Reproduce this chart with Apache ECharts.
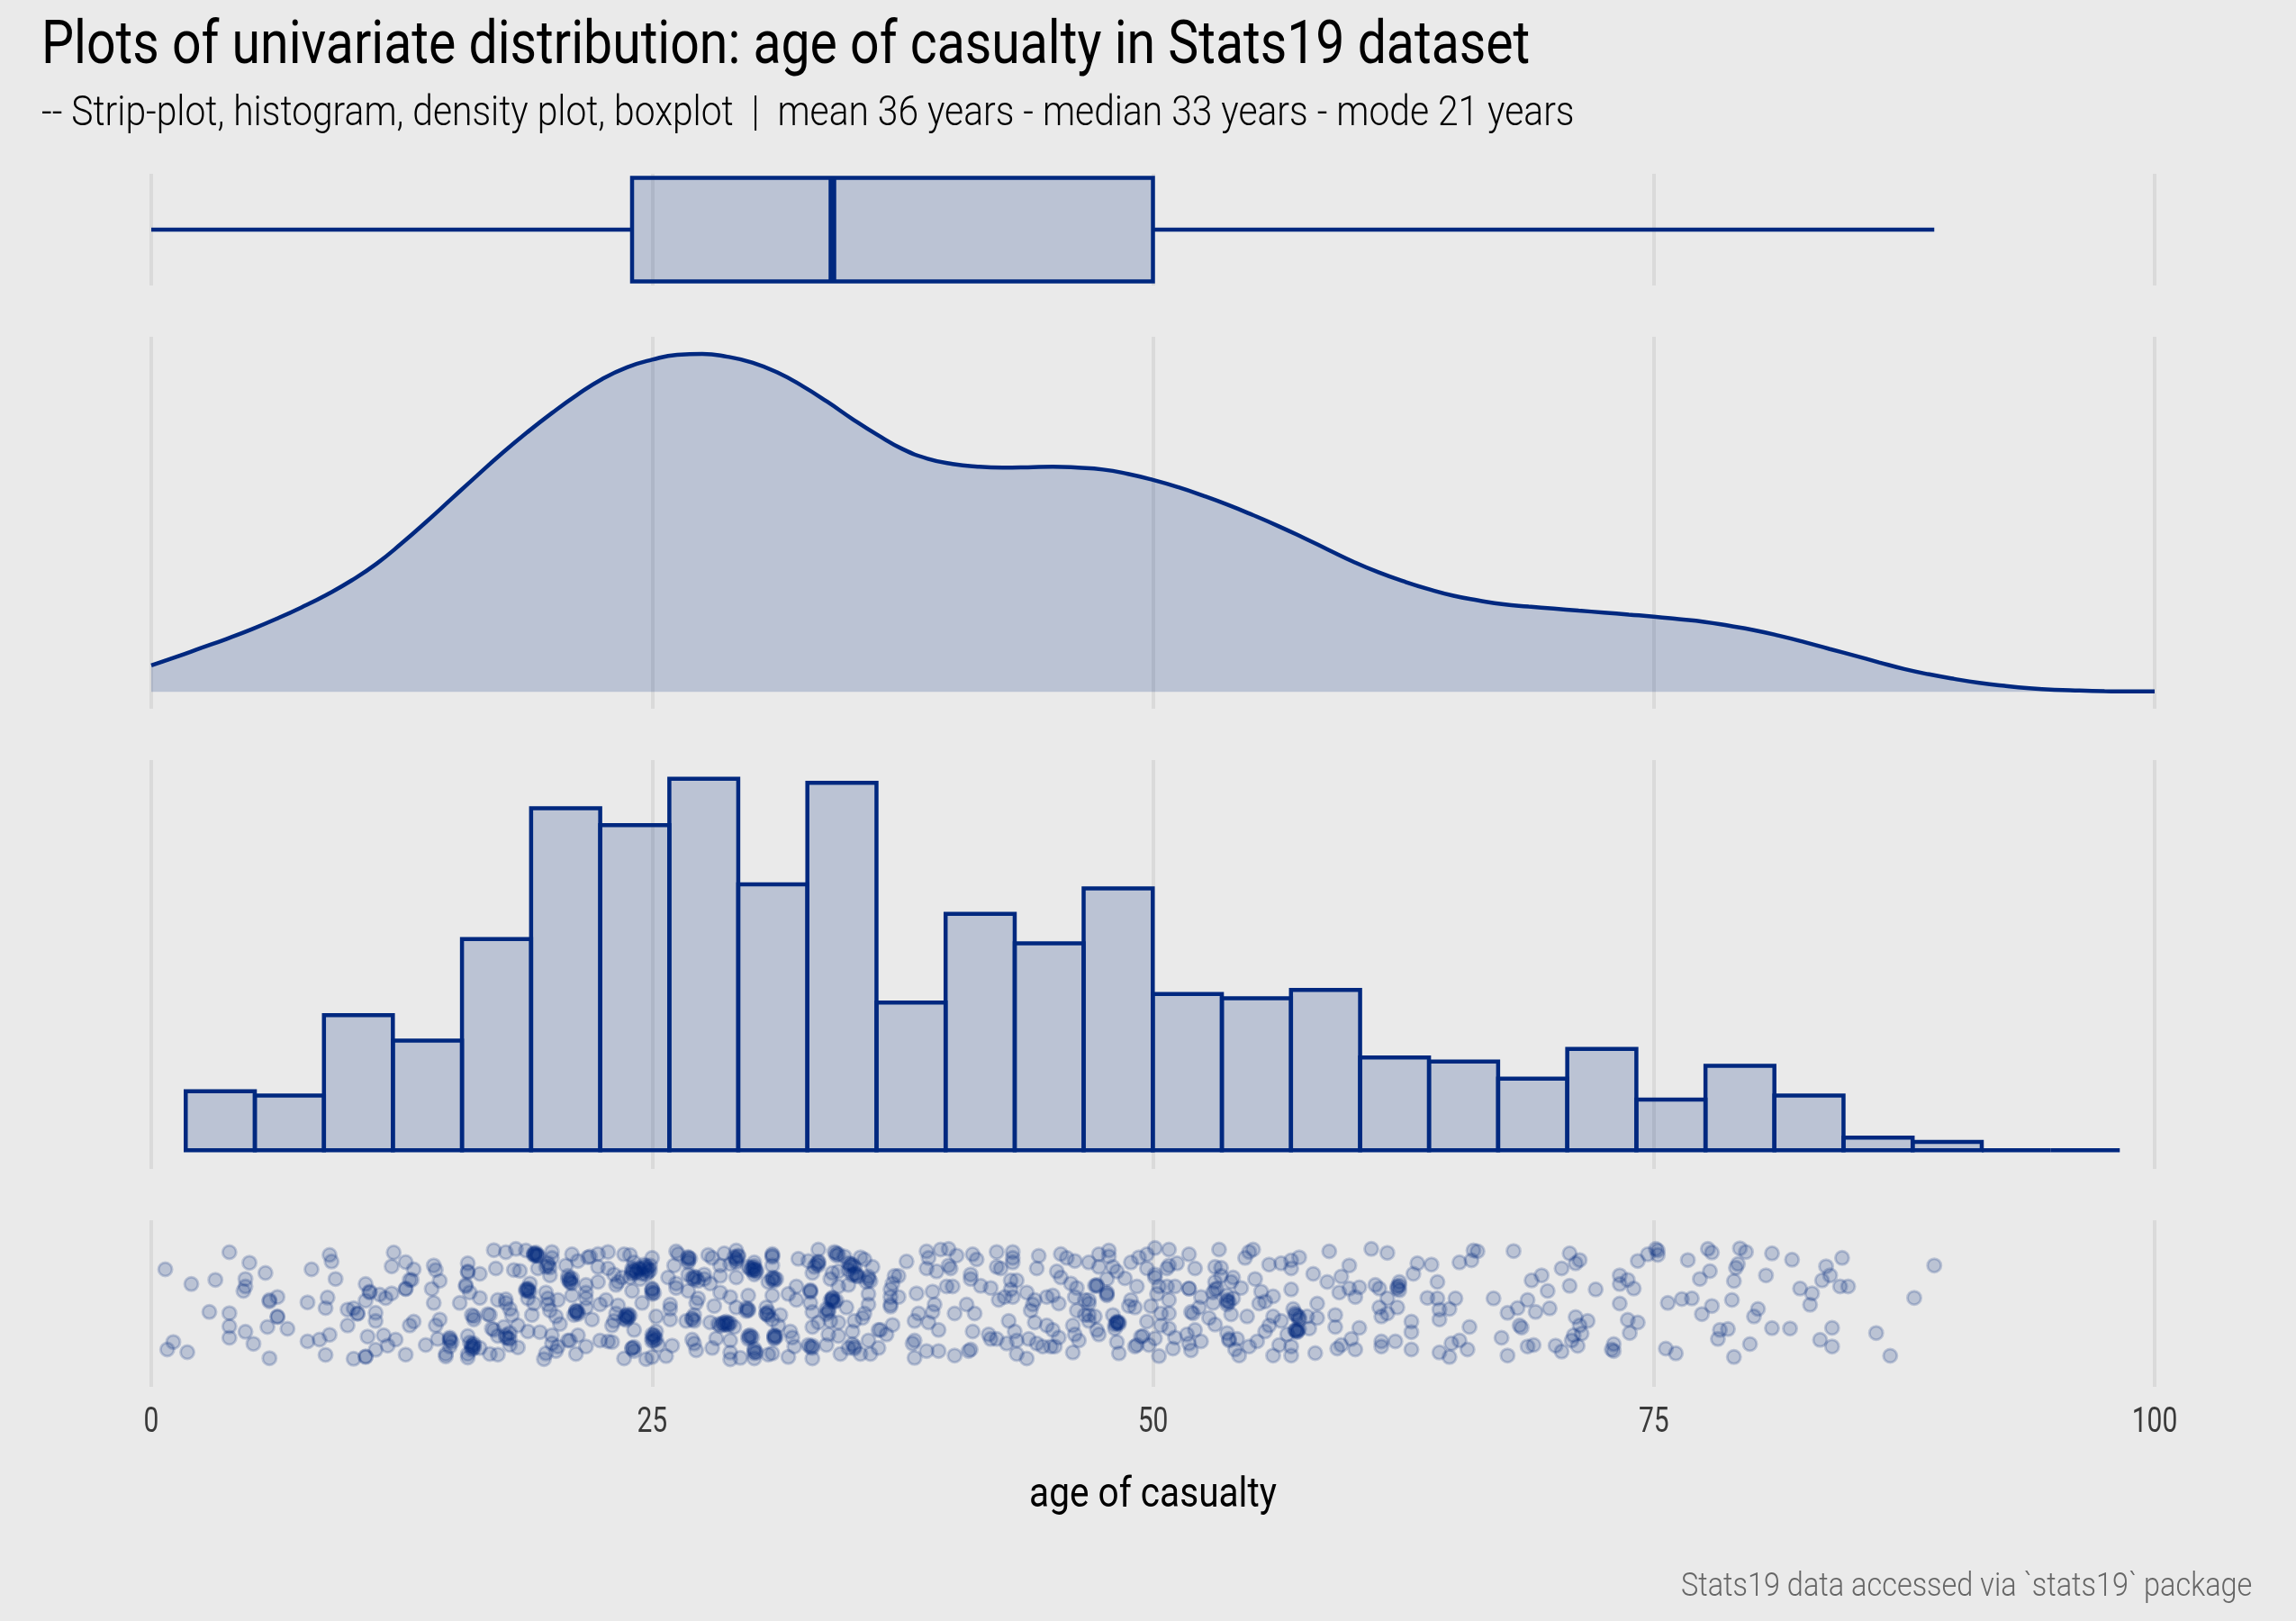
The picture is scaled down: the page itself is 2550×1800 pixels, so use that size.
<!DOCTYPE html>
<html><head><meta charset="utf-8">
<style>html,body{margin:0;padding:0;background:#eaeaea}#c{width:2550px;height:1800px}</style>
<script src="https://cdn.jsdelivr.net/npm/echarts@6/dist/echarts.min.js"></script>
</head><body><div id="c"></div>
<script>
const titleText = 'Plots of univariate distribution: age of casualty in Stats19 dataset';
const subtitleText = '-- Strip-plot, histogram, density plot, boxplot  |  mean 36 years - median 33 years - mode 21 years';
const captionText = 'Stats19 data accessed via `stats19` package';
const xAxisTitle = 'age of casualty';
const tickLabels = ['0','25','50','75','100'];
const boxStats = [0, 24, 34, 50, 89];
const densityAge = [0,1.25,2.5,3.75,5,6.25,7.5,8.75,10,11.25,12.5,13.75,15,16.25,17.5,18.75,20,21.25,22.5,23.75,25,26.25,27.5,28.75,30,31.25,32.5,33.75,35,36.25,37.5,38.75,40,41.25,42.5,43.75,45,46.25,47.5,48.75,50,51.25,52.5,53.75,55,56.25,57.5,58.75,60,61.25,62.5,63.75,65,66.25,67.5,68.75,70,71.25,72.5,73.75,75,76.25,77.5,78.75,80,81.25,82.5,83.75,85,86.25,87.5,88.75,90,91.25,92.5,93.75,95,96.25,97.5,98.75,100];
// density, in units of 1e-5 per year of age
const densityValue = [168,222,279,336,397,464,537,617,708,815,944,1083,1228,1373,1515,1648,1772,1887,1988,2063,2111,2142,2148,2130,2093,2030,1944,1843,1734,1633,1543,1482,1448,1431,1425,1427,1431,1425,1413,1385,1347,1301,1247,1188,1123,1054,980,903,827,760,703,653,611,581,556,542,529,516,504,491,478,462,445,420,392,357,317,273,231,187,145,111,82,57,38,23,13,8,4,2,2];
const histEdges = [1.72,5.17,8.62,12.06,15.51,18.96,22.41,25.86,29.30,32.75,36.20,39.65,43.10,46.54,49.99,53.44,56.89,60.34,63.78,67.23,70.68,74.13,77.58,81.02,84.47,87.92,91.37,94.82,98.26];
const histCounts = [14,13,32,26,50,81,77,88,63,87,35,56,49,62,37,36,38,22,21,17,24,12,20,13,3,2,0,0];
// age, jitter pairs
const stripAgeJitter = [
.7,114,2.0,65,3.2,79,3.9,171,4.9,136,5.7,102,4.7,82,4.7,57,4.6,42,2.9,-28,3.9,-32,3.9,-76,3.9,-114,4.7,-94,5.1,-134,5.9,-182,5.8,-78,6.8,-84,6.3,22,5.9,7,5.9,12,6.3,-43,6.3,-45,1.1,-128,.8,-153,1.8,-162,
8.0,114,8.9,162,9.0,140,9.2,82,7.8,4,8.8,20,8.7,-15,7.8,-126,8.4,-120,8.9,-104,8.7,-171,10.1,-184,10.7,-178,10.7,-176,9.8,-73,9.8,-20,10.1,-16,10.3,-33,10.3,-34,10.7,10,10.7,65,10.9,37,10.9,40,11.4,30,11.7,18,12.0,34,11.2,-31,11.2,-58,10.8,-110,11.6,-106,12.2,-120,11.8,-140,11.2,-154,12.7,-170,12.1,170,12.0,124,12.7,138,13.1,114,13.0,79,12.9,79,12.7,50,12.7,48,14.1,127,14.2,112,14.4,76,14.0,49,14.1,2,14.4,-53,14.2,-73,13.1,-60,12.9,-73,13.7,-138,14.3,-118,
14.9,-113,14.9,-123,14.9,-143,14.7,-168,14.7,-176,15.8,-108,16.0,-138,16.1,-133,16.0,-153,15.8,-168,15.8,-180,16.4,-148,16.9,-168,17.3,-170,15.8,134,15.8,107,15.8,104,16.4,99,15.7,62,15.7,57,15.9,37,16.4,19,15.4,2,16.0,-38,16.1,-53,16.1,-43,16.8,-35,16.9,-38,17.0,-83,17.1,-88,17.6,-78,17.3,-108,17.7,-113,17.9,-118,17.9,-98,18.3,-73,18.3,-146,17.9,-138,
17.1,178,17.7,171,18.2,182,18.7,177,19.1,167,19.2,164,19.3,162,20.0,172,17.2,117,18.1,112,18.4,109,20.0,152,19.8,127,19.7,122,19.3,117,19.9,94,18.9,67,18.8,47,18.7,42,18.8,17,17.3,12,17.7,14,17.7,2,17.9,-18,18.0,-38,19.1,0,19.0,-38,19.7,37,19.8,17,19.8,-3,19.9,-23,20.3,12,20.2,-43,20.4,-68,18.8,-93,19.4,-95,20.0,-106,20.0,-133,20.3,-143,20.2,-158,19.7,-166,19.6,-185,20.8,-123,20.9,-123,21.3,-106,21.2,-168,21.7,-143,22.4,-123,22.8,-126,23.0,-128,
20.7,127,21.0,164,21.3,142,21.8,154,21.9,157,22.3,165,22.8,172,22.3,122,22.8,117,20.8,92,20.9,82,21.0,67,21.7,62,22.3,72,21.7,37,21.0,27,21.7,17,22.4,-3,22.7,12,21.2,-23,21.1,-38,21.3,-28,21.7,-13,22.0,-53,23.0,-73,23.1,-58,23.1,97,23.2,62,
23.6,164,23.9,162,24.1,137,24.0,117,24.2,102,24.7,112,24.9,127,25.0,152,24.7,97,23.5,87,23.3,72,23.9,87,24.4,82,
26.2,174,26.3,165,26.1,127,26.8,152,26.8,137,25.8,87,26.2,67,26.2,52,25.0,47,25.0,32,24.0,42,26.8,42,26.8,97,27.2,87,27.6,97,27.8,162,28.0,152,28.6,167,29.2,177,29.3,157,28.4,127,28.9,132,29.2,137,29.2,87,28.4,92,27.9,67,27.6,82,29.8,122,30.1,137,30.1,112,30.1,97,31.0,160,31.0,127,31.0,87,31.2,82,30.8,72,
32.3,149,32.8,142,33.3,180,33.3,137,33.0,102,33.1,122,34.1,172,34.3,164,34.6,157,35.4,154,35.6,147,36.0,122,34.9,132,35.1,122,34.8,112,34.0,102,33.9,82,34.3,107,35.2,92,35.8,82,35.7,72,34.8,62,34.3,57,32.2,57,31.8,32,32.2,12,32.9,42,29.8,27,31.0,27,28.4,37,28.1,-8,28.9,22,27.3,17,27.2,2,25.9,-3,25.9,-18,24.5,2,23.3,-6,23.2,-33,23.7,-43,23.8,-48,25.2,-43,25.9,-53,26.7,-58,27.0,-53,27.1,-38,27.9,-63,28.3,-68,28.6,-63,28.8,-73,29.1,-78,29.2,-13,29.8,-18,29.8,-23,30.7,-13,30.7,-33,31.0,-53,31.4,-38,31.3,-73,31.9,-93,32.0,-113,31.1,-108,31.1,-113,29.9,-113,29.8,-108,28.2,-116,28.9,-123,27.0,-120,27.1,-133,27.2,-156,28.0,-148,26.0,-140,25.7,-175,25.2,-93,25.0,-103,25.1,-123,25.3,-138,24.1,-88,24.0,-148,24.1,-158,23.6,-183,24.7,-185,25.0,-178,28.9,-163,28.9,-186,29.4,-181,30.1,-158,30.2,-163,30.1,-183,30.8,-170,31.0,-166,31.8,-178,32.1,-143,32.8,-138,33.0,-148,33.0,-183,33.7,-138,34.4,-168,34.8,-148,35.1,-143,35.4,-168,35.9,-168,36.3,-148,35.8,-123,36.3,-88,36.4,-88,36.7,-103,37.0,-71,
34.0,17,34.0,7,34.7,-13,35.8,32,35.8,-3,35.6,-33,35.5,-48,35.1,-58,32.9,2,33.0,-28,33.7,-18,33.8,-28,33.9,-58,33.3,-63,33.0,-78,34.3,-63,33.8,-103,34.3,-108,35.0,-93,
37.7,140,37.3,92,37.1,92,37.0,67,36.9,47,36.9,22,37.3,22,36.9,-3,36.9,-10,
38.2,34,39.0,40,39.1,-3,39.0,-28,38.3,-33,38.1,-58,38.8,-63,39.3,-88,40.1,-33,40.7,-3,41.1,-33,41.0,-93,40.9,-153,40.8,-158,38.1,-123,38.0,-133,38.7,-158,39.3,-158,38.1,-181,40.1,-173,
38.7,174,39.4,180,39.8,182,40.2,160,41.0,164,41.2,147,38.8,152,38.7,117,39.2,107,39.8,127,39.9,117,39.7,57,40.0,57,40.9,97,40.9,82,41.4,59,41.9,52,
42.2,172,43.0,172,43.0,152,43.0,137,42.2,122,42.4,117,42.9,77,43.2,77,42.9,47,42.6,22,42.3,12,43.0,22,44.3,159,44.2,117,43.7,37,44.1,12,44.0,-3,43.9,-23,44.7,22,45.0,27,45.3,0,42.8,-58,43.1,-93,44.1,-63,41.8,-103,41.9,-118,42.2,-118,42.7,-133,43.2,-123,43.8,-118,44.2,-133,44.5,-143,44.9,-143,45.1,-143,45.3,-113,44.7,-73,45.0,-88,43.2,-168,43.7,-183,46.0,-163,46.1,-103,46.0,-73,46.3,-123,
45.4,165,45.7,152,46.1,142,45.2,107,45.4,87,45.9,67,46.2,52,46.1,22,46.6,12,46.2,-23,46.6,-38,
46.8,137,47.3,164,47.8,177,47.8,157,47.3,122,48.0,122,48.2,107,47.7,82,47.2,62,47.1,60,47.7,37,47.7,27,46.8,12,46.8,0,48.9,137,49.3,154,49.7,164,50.1,185,50.8,180,51.8,164,50.8,127,50.7,117,51.2,134,49.7,117,52.1,117,48.6,84,49.2,57,50.1,97,50.1,87,50.3,57,50.2,32,50.7,57,51.1,57,51.8,50,51.8,50,52.4,22,50.8,12,48.9,12,48.8,-8,49.1,-13,49.9,-8,50.4,-33,50.8,-33,51.9,-28,52.0,-33,52.3,-13,52.8,-48,53.1,-70,
46.8,-38,47.1,-43,46.8,-58,47.2,-88,47.3,-103,48.0,-38,48.2,-63,48.3,-68,48.1,-83,48.2,-128,48.3,-166,49.1,-143,49.2,-138,49.4,-110,49.5,-108,50.1,-116,49.8,-138,49.7,-60,50.4,-73,50.8,-83,51.1,-113,51.0,-150,51.7,-103,51.8,-133,51.9,-156,52.1,-88,52.4,-126,50.3,-175,
53.3,180,54.6,152,54.8,172,55.0,180,53.1,122,53.4,119,53.4,92,54.0,87,53.9,72,53.1,72,53.1,47,53.0,37,54.4,52,55.1,82,55.4,40,53.7,27,53.7,7,53.7,-3,54.0,17,53.0,2,53.9,-36,54.7,-43,55.3,0,55.6,7,56.0,24,
55.8,130,56.4,134,56.9,144,57.3,154,56.9,117,58.0,99,58.7,72,58.8,174,56.9,47,59.4,90,59.8,127,60.9,182,61.7,169,59.3,37,59.8,50,60.3,54,60.1,22,61.1,62,61.3,50,61.7,17,62.3,72,62.2,57,62.3,44,63.0,99,63.2,134,63.9,130,64.2,72,63.7,19,64.2,17,65.1,17,64.3,-20,64.8,-18,64.3,-53,62.2,-13,61.3,-13,61.4,-43,61.7,-33,
65.3,137,66.0,177,66.2,174,65.9,144,68.0,175,67.0,17,67.7,-31,68.2,-15,68.7,12,68.9,77,69.4,94,69.7,42,69.1,-28,69.8,-16,
53.7,-98,53.8,-118,54.2,-118,53.8,-123,54.1,-153,54.3,-173,54.8,-143,55.2,-126,55.6,-93,55.8,-73,56.0,-43,56.4,-58,56.0,-173,56.3,-138,56.9,-143,56.9,-173,56.7,-103,57.0,-18,57.1,-38,57.3,-53,57.1,-88,57.2,-93,57.8,-83,58.2,-48,58.2,0,59.1,-38,59.1,-78,57.7,-43,58.1,-165,59.2,-150,59.4,-138,59.9,-118,60.1,-153,60.3,-81,61.4,-126,61.4,-143,62.1,-126,62.9,-153,62.9,-95,62.9,-60,64.3,-163,64.8,-178,64.9,-133,65.3,-123,65.7,-153,65.8,-78,67.4,-114,67.7,-173,68.3,-73,68.4,-80,68.7,-143,69.0,-138,
70.8,167,71.3,145,71.1,134,70.4,117,70.8,59,72.1,47,73.3,94,73.7,79,73.3,65,74.0,50,73.3,0,74.2,142,74.7,164,75.1,182,75.2,177,75.2,162,76.7,145,77.7,182,77.9,170,79.3,184,79.6,172,80.9,167,81.9,146,79.2,132,79.1,119,77.8,108,77.3,82,79.0,75,80.6,94,83.6,124,84.4,152,83.8,94,83.4,77,84.3,57,84.7,57,82.3,50,82.9,34,82.8,-4,89.0,127,88.0,19,75.7,2,76.4,15,76.9,17,77.9,-8,78.9,12,77.4,-35,80.2,-18,80.0,-43,71.1,-45,71.7,-58,71.3,-73,73.7,-54,74.2,-63,73.8,-98,80.9,-82,81.8,-83,83.9,-81,78.3,-88,78.7,-85,78.2,-118,86.1,-98,83.3,-121,83.9,-143,79.8,-135,75.6,-150,76.1,-166,79.0,-178,86.8,-174,71.0,-106,71.4,-100,70.9,-123,71.2,-141,70.1,-140,70.4,-160,73.0,-135,72.9,-153,73.0,-158,
24.1,112,24.3,118,24.2,107,24.0,100,24.6,120,24.8,105,30.1,117,30.0,120,30.2,112,28.7,-68,28.6,-72,28.7,-60,28.9,-65,23.7,-40,23.8,-45,23.6,-50,25.0,-115,25.1,-110,34.0,12,34.1,5,35.1,100,35.0,95,48.2,-65,48.2,-60,48.1,-70,48.3,-62,57.2,-88,57.1,-90,57.2,-40,19.2,160,19.1,165,20.9,75,18.8,42,18.9,40,16.0,-145,16.1,-140,21.2,-30,
24.0,108,24.4,115,24.5,100,24.7,125,24.8,118,24.9,110,24.6,130,26.8,145,26.9,150,26.8,155,27.1,80,27.1,90,27.3,75,27.0,85,29.2,150,29.3,160,29.1,155,29.2,145,30.0,110,30.1,125,30.2,105,29.9,115,31.0,165,31.0,155,31.0,80,31.1,85,31.1,75,33.3,140,33.2,132,33.3,128,34.2,168,34.2,160,34.9,125,35.0,130,34.8,135,35.2,100,35.3,90,35.8,90,35.9,75,34.0,20,33.9,12,34.2,10,32.9,45,32.9,38,25.0,40,25.0,50,25.1,35,23.8,-35,23.7,-55,23.9,-40,25.1,-105,25.0,-125,25.2,-118,24.0,-150,24.1,-145,27.0,-48,27.1,-58,28.8,-65,28.5,-66,28.4,-74,29.7,-15,29.7,-25,30.7,-35,30.8,-28,30.8,-40,31.1,-105,31.1,-118,31.2,-110,29.9,-105,29.8,-118,30.0,-112,30.1,-165,30.1,-150,33.0,-140,32.9,-145,33.8,-22,33.7,-35,35.1,-150,35.0,-135,19.1,160,19.2,170,19.3,158,18.8,50,18.7,48,20.9,70,21.0,85,20.8,80,14.9,-118,15.0,-128,15.9,-130,16.1,-148,21.2,-25,21.3,-35,17.7,-105,17.8,-115,19.8,135,19.9,120,57.2,-95,57.3,-85,57.1,-32,57.3,-45,53.7,12,53.8,5,53.2,50,47.2,58,62.3,60,62.2,50,47.7,32
];
const INK = '#00287f', FILL = 'rgba(0,40,127,0.2)', DOT = 'rgba(0,40,127,0.2)';
const GRIDC = '#dadada';
const LINEW = 4.5;
const stripPoints = [];
for (let i = 0; i < stripAgeJitter.length; i += 2) stripPoints.push([stripAgeJitter[i], stripAgeJitter[i+1]]);
const grids = [[193,124],[374,413],[844,454],[1355,185]];
const xAxes = grids.map((g,i)=>({
  type:'value', gridIndex:i, min:0, max:100, interval:25,
  axisLine:{show:false}, axisTick:{show:false},
  splitLine:{show:true, lineStyle:{color:GRIDC, width:4}},
  axisLabel: i===3 ? {show:true, color:'#3a3a3a', fontSize:38, fontFamily:'Roboto', margin:21} : {show:false},
  ...(i===3 ? {name:xAxisTitle, nameLocation:'middle', nameGap:98, nameTextStyle:{color:'#000', fontSize:46, fontFamily:'Roboto'}} : {})
}));
const yRanges = [[-.54,.54],[-107.5,2256.5],[-4.4,92.4],[-277.5,277.5]];
const yAxes = yRanges.map((r,i)=>({type:'value', gridIndex:i, min:r[0], max:r[1], show:false}));
const option = {
  backgroundColor:'#eaeaea', animation:false,
  title:[
    {text:titleText, subtext:subtitleText, left:46, top:20, itemGap:18,
     textStyle:{fontFamily:'Roboto', fontWeight:400, fontSize:66, color:'#000'},
     subtextStyle:{fontFamily:'Roboto', fontWeight:300, fontSize:46, color:'#000'}, padding:0},
    {text:captionText, left:1867, top:1744, padding:0,
     textStyle:{fontFamily:'Roboto', fontWeight:300, fontSize:37, color:'#666'}}
  ],
  grid: grids.map(g=>({left:168, width:2225, top:g[0], height:g[1], containLabel:false})),
  xAxis:xAxes, yAxis:yAxes,
  series:[
    {type:'custom', xAxisIndex:0, yAxisIndex:0, clip:false, silent:true,
     data:[boxStats], encode:{x:[0,1,2,3,4]},
     renderItem:(p,api)=>{
       const [lo,q1,med,q3,hi]=[0,1,2,3,4].map(i=>api.value(i));
       const T=api.coord([q1,.5]), B=api.coord([q3,-.5]), M=api.coord([med,.5]), Mb=api.coord([med,-.5]);
       const a=api.coord([lo,0]), b=api.coord([q1,0]), c=api.coord([q3,0]), d=api.coord([hi,0]);
       const ls={stroke:INK,lineWidth:LINEW,fill:null};
       return {type:'group',children:[
         {type:'rect',shape:{x:T[0],y:T[1],width:B[0]-T[0],height:B[1]-T[1]},style:{fill:FILL,stroke:INK,lineWidth:LINEW}},
         {type:'line',shape:{x1:a[0],y1:a[1],x2:b[0],y2:b[1]},style:ls},
         {type:'line',shape:{x1:c[0],y1:c[1],x2:d[0],y2:d[1]},style:ls},
         {type:'line',shape:{x1:M[0],y1:M[1],x2:Mb[0],y2:Mb[1]},style:{stroke:INK,lineWidth:8.5}}
       ]};
     }},
    {type:'line', xAxisIndex:1, yAxisIndex:1, smooth:.5, showSymbol:false, clip:false, silent:true,
     data:densityAge.map((a,i)=>[a,densityValue[i]]),
     lineStyle:{color:INK,width:LINEW}, areaStyle:{color:FILL,opacity:1}},
    {type:'custom', xAxisIndex:2, yAxisIndex:2, clip:false, silent:true,
     data:histCounts.map((c,i)=>[histEdges[i],histEdges[i+1],c]), encode:{x:[0,1],y:2},
     renderItem:(p,api)=>{
       const t=api.coord([api.value(0),api.value(2)]), b=api.coord([api.value(1),0]);
       return {type:'rect',shape:{x:t[0],y:t[1],width:b[0]-t[0],height:b[1]-t[1]},style:{fill:FILL,stroke:INK,lineWidth:LINEW}};
     }},
    {type:'scatter', xAxisIndex:3, yAxisIndex:3, clip:false, silent:true, data:stripPoints, symbolSize:15,
     itemStyle:{color:DOT,borderColor:DOT,borderWidth:3,opacity:1}, progressive:0}
  ]
};
const chart = echarts.init(document.getElementById('c'), null, {renderer:'canvas', devicePixelRatio:1, width:2550, height:1800});
chart.setOption(option);
// The reference uses a condensed face: narrow the real text elements horizontally.
const narrow = new Map([[titleText,.866],[subtitleText,.886],[captionText,.877],[xAxisTitle,.8825]]);
tickLabels.forEach(t=>narrow.set(t,.79));
const zr = chart.getZr();
zr.storage.getDisplayList(true).forEach(el=>{
  const s = el.style && el.style.text;
  const owner = el.parent;
  if (s!=null && narrow.has(String(s)) && owner) { owner.scaleX = narrow.get(String(s)); owner.markRedraw(); }
});
zr.refresh();
</script></body></html>
